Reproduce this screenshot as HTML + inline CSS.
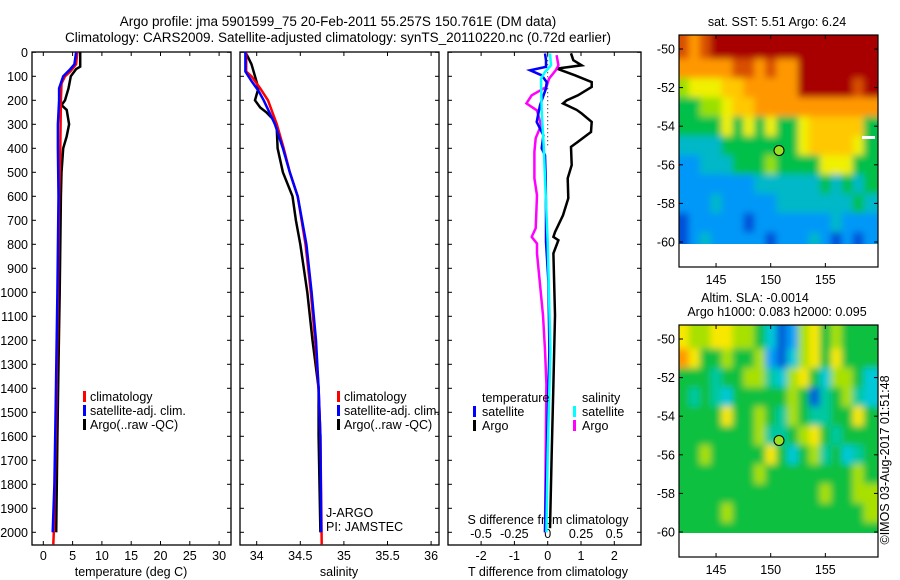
<!DOCTYPE html>
<html><head><meta charset="utf-8"><style>
html,body{margin:0;padding:0;background:#fff;}
svg{display:block;font-family:"Liberation Sans",sans-serif;}
text{font-size:12.5px;fill:#000;}
</style></head><body>
<svg id="fig" width="900" height="580" viewBox="0 0 900 580" xmlns="http://www.w3.org/2000/svg">
<defs>
<clipPath id="clipSST"><rect x="679" y="35" width="199" height="209"/></clipPath>
<clipPath id="clipSLA"><rect x="679" y="325" width="199" height="208"/></clipPath>
<filter id="blur" x="-10%" y="-10%" width="120%" height="120%"><feGaussianBlur stdDeviation="3.5"/></filter>
</defs>
<text x="338" y="26" text-anchor="middle" style="font-size:13.5px">Argo profile: jma 5901599_75 20-Feb-2011 55.257S 150.761E (DM data)</text>
<text x="338" y="42" text-anchor="middle" style="font-size:13.5px">Climatology: CARS2009. Satellite-adjusted climatology: synTS_20110220.nc (0.72d earlier)</text>
<g id="g"></g>
</svg>
<script>
// ---- data: temperature (deg C) ----
const tClimDepth=[0,50,80,100,130,200,300,400,600,1000,1500,2000,2050];
const tClimVal=[5.8,5.6,4.6,3.7,3.1,3.0,2.95,2.9,2.7,2.5,2.2,1.8,1.7];
const tSatDepth=[0,50,70,100,150,200,300,400,600,1000,1500,1800,2000];
const tSatVal=[5.6,5.3,4.6,3.4,2.7,2.7,2.5,2.5,2.6,2.4,2.1,1.9,1.6];
const tArgoDepth=[0,60,70,100,150,200,220,240,300,350,400,500,600,800,1000,1300,1600,1800,2000];
const tArgoVal=[6.3,6.3,5.6,4.7,4.3,3.7,3.1,4.0,4.4,4.0,3.4,3.1,3.0,2.9,2.8,2.6,2.4,2.3,2.2];
// ---- data: salinity ----
const sClimDepth=[0,80,100,150,200,250,300,400,500,600,800,1000,1200,1400,1600,2050];
const sClimVal=[33.88,33.88,33.94,34.04,34.13,34.18,34.23,34.31,34.38,34.47,34.56,34.62,34.67,34.71,34.73,34.745];
const sSatDepth=[0,80,120,160,200,300,400,500,600,800,1000,1200,1400,1600,2000];
const sSatVal=[33.87,33.87,33.94,34.02,34.08,34.21,34.30,34.38,34.47,34.57,34.63,34.68,34.71,34.73,34.74];
const sArgoDepth=[0,20,50,100,150,200,230,250,280,320,400,500,600,700,800,1000,1200,1400,1600,2000];
const sArgoVal=[33.87,33.90,33.94,33.98,34.02,33.98,34.04,34.11,34.19,34.23,34.24,34.30,34.41,34.45,34.50,34.58,34.64,34.71,34.71,34.73];
// ---- data: differences from climatology ----
const dTArgoDepth=[4,33,54,68,96,124,144,179,200,213,240,255,290,332,373,394,470,525,608,679,749,769,783,838,1096,1383,1671,1983];
const dTArgoVal=[0.70,0.77,1.02,0.27,0.82,1.32,1.32,0.91,0.57,0.46,0.87,1.02,1.32,1.30,0.91,0.70,0.72,0.60,0.62,0.46,0.22,0.17,0.32,0.17,0.22,0.17,0.12,0.07];
const dTSatDepth=[5,33,61,75,96,124,150,221,290,346,400,429,525,665,790,954,1240,1525,1812,2000];
const dTSatVal=[-0.08,-0.05,-0.05,-0.53,-0.18,-0.03,-0.05,-0.23,-0.33,-0.13,-0.18,-0.08,-0.06,-0.05,-0.05,0.02,0.05,0.0,-0.05,-0.08];
const dSSatDepth=[5,54,82,110,249,388,525,790,1240,1671,2000];
const dSSatVal=[0.017,0.025,-0.02,-0.05,-0.045,-0.03,-0.02,0.0,0.02,0.0,-0.01];
const dSArgoDepth=[12,54,75,110,144,179,213,242,304,358,415,525,596,733,769,797,838,954,1096,1240,1383,1671,2000];
const dSArgoVal=[0.067,0.08,0.06,0.01,-0.01,-0.12,-0.16,-0.08,-0.05,-0.09,-0.10,-0.10,-0.08,-0.09,-0.12,-0.08,-0.08,-0.06,-0.035,-0.02,-0.01,-0.015,-0.02];
// ---- ticks ----
const depthTicks=[0,100,200,300,400,500,600,700,800,900,1000,1100,1200,1300,1400,1500,1600,1700,1800,1900,2000];
const tTicks=[0,5,10,15,20,25,30];
const sTicks=[34,34.5,35,35.5,36];
const sTickLabels=["34","34.5","35","35.5","36"];
const dTTicks=[-2,-1,0,1,2];
const dSTicks=[-0.5,-0.25,0,0.25,0.5];
const dSTickLabels=["-0.5","-0.25","0","0.25","0.5"];
const lonTicks=[145,150,155];
const latTicks=[-50,-52,-54,-56,-58,-60];
// ---- map grids (1 deg cells, lon 142..159, lat -50..-60), level codes ----
const sstRows=[
"878999999999999999",
"777778878779999999",
"455566777779999989",
"334456677777777777",
"333353535335666663",
"222233333335666653",
"112223334333355533",
"111111122222232323",
"111211111222222232",
"011111011111112111",
"012111110111210101"];
const slaRows=[
"766776653126756555",
"875565562136757555",
"555455664367536653",
"545435555565145643",
"555575565465445575",
"555555564456754555",
"556555557535645345",
"555555565555555565",
"555555555555565566",
"555565555555555556",
"555555555555555555"];
const sstPalette=["#0050d8","#0098f8","#00b8c8","#00c048","#98e000","#f0f000","#ffc800","#ff9800","#d85000","#a80000"];
const slaPalette=["#0030a0","#0060d8","#00a0f8","#00c8d8","#00c8a0","#10c040","#a8e000","#f8e800","#ff9800"];
const argoLon=150.761, argoLat=-55.257;

const NS="http://www.w3.org/2000/svg";
const G=document.getElementById('g');
function el(tag,attrs,parent){const e=document.createElementNS(NS,tag);for(const k in attrs)e.setAttribute(k,attrs[k]);(parent||G).appendChild(e);return e;}
function txt(x,y,s,anchor,parent){const t=el('text',{x:x,y:y,'text-anchor':anchor||'start'},parent);t.textContent=s;return t;}
const TOP=52,BOT=545;
function yD(d){return 52.3+d*0.24;}
function frame(x0,x1,name){
  const r=el('rect',{x:x0,y:TOP,width:x1-x0,height:BOT-TOP,fill:'none',stroke:'#000','stroke-width':1.3});
  
  
  depthTicks.forEach(d=>{const y=yD(d);
    el('line',{x1:x0,x2:x0+4,y1:y,y2:y,stroke:'#000'});
    el('line',{x1:x1-4,x2:x1,y1:y,y2:y,stroke:'#000'});});
}
function series(depths,vals,fx,color,name,w){
  const pts=depths.map((d,i)=>fx(vals[i]).toFixed(1)+','+yD(d).toFixed(1)).join(' ');
  const p=el('polyline',{points:pts,fill:'none',stroke:color,'stroke-width':w||2.5,'stroke-linejoin':'miter'});
  
  
}
function xticks(ticks,labels,fx,x0,x1,ly,top){
  ticks.forEach((v,i)=>{const x=fx(v);
    el('line',{x1:x,x2:x,y1:BOT,y2:BOT-4,stroke:'#000'});
    if(top) el('line',{x1:x,x2:x,y1:TOP,y2:TOP+4,stroke:'#000'});
    const t=txt(x,ly,labels[i],'middle');
    
    });
}
function legendEntry(bx,tx,y,color,label){
  el('rect',{x:bx,y:y-10,width:3,height:11,fill:color});
  const t=txt(tx,y,label);
  
  
}
const fT=v=>43.3+v*5.86;
frame(32,231,'temperature-panel');
depthTicks.forEach(d=>{const t=txt(28,yD(d)+4.5,String(d),'end');
  
  });
xticks(tTicks,tTicks.map(String),fT,32,231,560,true);
let lab=txt(131,576,'temperature (deg C)','middle');


series(tArgoDepth,tArgoVal,fT,'#000','temp-argo-line');
series(tClimDepth,tClimVal,fT,'#f00','temp-climatology-line');
series(tSatDepth,tSatVal,fT,'#00f','temp-satellite-line');
legendEntry(83,90,401,'#f00','climatology');
legendEntry(83,90,415,'#00f','satellite-adj. clim.');
legendEntry(83,90,429,'#000','Argo(..raw -QC)');
const fS=v=>256.7+(v-34)*87.2;
frame(240,439,'salinity-panel');
xticks(sTicks,sTickLabels,fS,240,439,560,true);
lab=txt(339,576,'salinity','middle');


series(sArgoDepth,sArgoVal,fS,'#000','sal-argo-line');
series(sClimDepth,sClimVal,fS,'#f00','sal-climatology-line');
series(sSatDepth,sSatVal,fS,'#00f','sal-satellite-line');
legendEntry(337,344,401,'#f00','climatology');
legendEntry(337,344,415,'#00f','satellite-adj. clim.');
legendEntry(337,344,429,'#000','Argo(..raw -QC)');
lab=txt(326,517,'J-ARGO');
lab=txt(326,531,'PI: JAMSTEC');
const fDT=v=>547.7+v*33.3;
const fDS=v=>547.7+v*133.3;
frame(448,641,'difference-panel');
xticks(dTTicks,dTTicks.map(String),fDT,448,641,560,true);
dSTicks.forEach((v,i)=>{const x=fDS(v);
  const t=txt(x,538,dSTickLabels[i],'middle');
  
  });
lab=txt(548,524,'S difference from climatology','middle');
lab=txt(548,576,'T difference from climatology','middle');
el('line',{x1:fDT(0),x2:fDT(0),y1:yD(0),y2:yD(390),stroke:'#000','stroke-dasharray':'1,3'});
series(dTArgoDepth,dTArgoVal,fDT,'#000','tdiff-argo-line');
series(dSArgoDepth,dSArgoVal,fDS,'#f0f','sdiff-argo-line');
series(dTSatDepth,dTSatVal,fDT,'#00f','tdiff-satellite-line');
series(dSSatDepth,dSSatVal,fDS,'#0ff','sdiff-satellite-line');
lab=txt(482,402,'temperature');
lab=txt(582,402,'salinity');
legendEntry(473,482,416,'#00f','satellite');
legendEntry(473,482,430,'#000','Argo');
legendEntry(573,582,416,'#0ff','satellite');
legendEntry(573,582,430,'#f0f','Argo');
const fLon=l=>770.7+(l-150)*10.93;
function drawMap(rows,pal,y50,clip,ftop,fbot,name){
  const fLat=la=>y50+(-la-50)*19.3;
  const cg=el('g',{'clip-path':'url(#'+clip+')'});
  
  
  const bg=el('g',{filter:'url(#blur)'},cg);
  rows.forEach((row,j)=>{for(let i=0;i<row.length;i++){
    const lon=142+i, lat=-50-j;
    let x0=fLon(lon-0.5),x1=fLon(lon+0.5),y0=fLat(lat+0.5),y1=fLat(lat-0.5);
    if(i===0)x0-=15; if(i===row.length-1)x1+=15; if(j===0)y0-=15; if(j===rows.length-1)y1+=15;
    const r=el('rect',{x:x0.toFixed(1),y:y0.toFixed(1),width:(x1-x0+0.6).toFixed(1),height:(y1-y0+0.6).toFixed(1),fill:pal[+row[i]]},bg);
    
    
  }});
  el('rect',{x:679,y:ftop,width:199,height:fbot-ftop,fill:'none',stroke:'#000','stroke-width':1.2});
  lonTicks.forEach(l=>{const x=fLon(l);
    el('line',{x1:x,x2:x,y1:ftop,y2:ftop+4,stroke:'#000'});
    el('line',{x1:x,x2:x,y1:fbot,y2:fbot-4,stroke:'#000'});
    const t=txt(x,fbot+17,String(l),'middle');
    
    });
  latTicks.forEach(la=>{const y=fLat(la);
    el('line',{x1:679,x2:683,y1:y,y2:y,stroke:'#000'});
    el('line',{x1:874,x2:878,y1:y,y2:y,stroke:'#000'});
    const t=txt(675,y+4.5,String(la),'end');
    
    });
  const c=el('circle',{cx:fLon(argoLon),cy:fLat(argoLat),r:5,fill:'#9be020',stroke:'#000','stroke-width':1});
  
  
}
drawMap(sstRows,sstPalette,49,'clipSST',35,267,'sst-map');
drawMap(slaRows,slaPalette,339,'clipSLA',325,557,'sla-map');
el('rect',{x:862,y:136,width:13,height:3,fill:'#fff'});
lab=txt(777,26,'sat. SST: 5.51 Argo: 6.24','middle');
lab=txt(755,302,'Altim. SLA: -0.0014','middle');
lab=txt(777,316,'Argo h1000: 0.083 h2000: 0.095','middle');
const im=txt(0,0,'©IMOS 03-Aug-2017 01:51:48','middle');
im.setAttribute('transform','translate(889,460) rotate(-90)');


</script>
</body></html>
